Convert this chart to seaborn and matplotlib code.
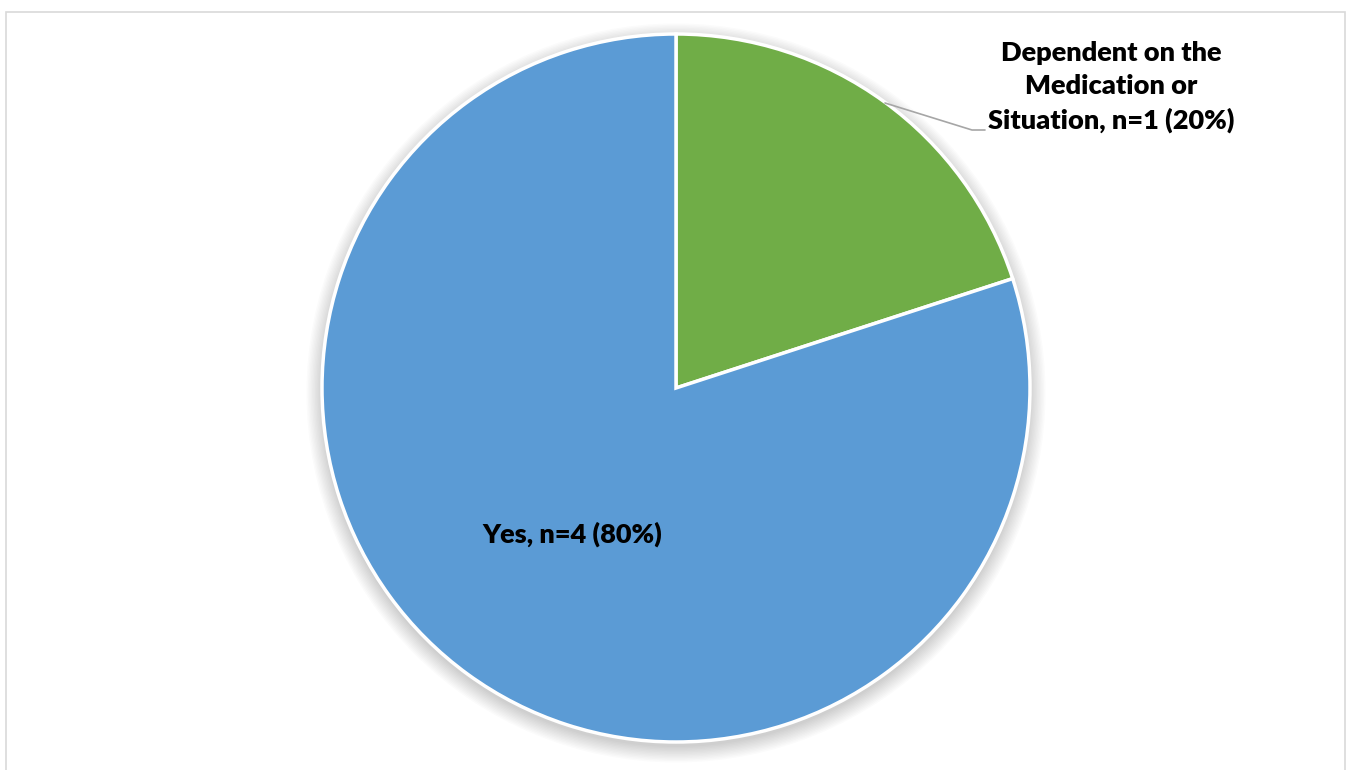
import matplotlib
matplotlib.use("Agg")
import matplotlib.pyplot as plt
import matplotlib.patches as mpatches
import seaborn as sns

sns.set_theme(style="white")
plt.rcParams['font.family'] = ['Lato', 'DejaVu Sans']

categories = ["Dependent on the\nMedication or\nSituation", "Yes"]
counts = [1, 4]
colors = ["#70AD47", "#5B9BD5"]

total = sum(counts)
labels = [f"{c}, n={n} ({round(100 * n / total)}%)" for c, n in zip(categories, counts)]

fig = plt.figure(figsize=(13.51, 7.70), dpi=100)
fig.patch.set_facecolor("white")

# chart frame
frame = mpatches.Rectangle((6 / 1351, -0.05), 1339 / 1351, 1.05 - 12 / 770,
                           transform=fig.transFigure, fill=False,
                           edgecolor="#D9D9D9", linewidth=1.2)
fig.add_artist(frame)

cx, cy, r = 676, 388, 354
ax = fig.add_axes([(cx - r) / 1351, (770 - cy - r) / 770, 2 * r / 1351, 2 * r / 770])
ax.axis("off")

# soft drop shadow beneath the pie
for i in range(12):
    ax.add_patch(mpatches.Circle((0.0, -0.014), 1.0 + 0.004 * i, color="black",
                                 alpha=0.016, zorder=0, linewidth=0, clip_on=False))

wedges, _ = ax.pie(counts, colors=colors, startangle=90, counterclock=False,
                   radius=1.0, wedgeprops=dict(edgecolor="white", linewidth=2.5,
                                               clip_on=False),
                   frame=False)
for w in wedges:
    w.set_zorder(2)
ax.set_aspect("equal")
ax.set_xlim(-1.0, 1.0)
ax.set_ylim(-1.0, 1.0)

# data labels
fig.text(1111 / 1351, 1 - 87 / 770, labels[0], ha="center", va="center",
         fontsize=19.5, fontweight="heavy", color="black", linespacing=1.46)
fig.text(572 / 1351, 1 - 534 / 770, labels[1], ha="center", va="center",
         fontsize=19.5, fontweight="heavy", color="black")

# leader line from green slice to its label
fig.add_artist(plt.Line2D([885 / 1351, 972 / 1351, 985 / 1351],
                          [1 - 103 / 770, 1 - 130 / 770, 1 - 130 / 770],
                          transform=fig.transFigure, color="#A6A6A6", linewidth=1.2))

fig.savefig("out.png", dpi=100)
